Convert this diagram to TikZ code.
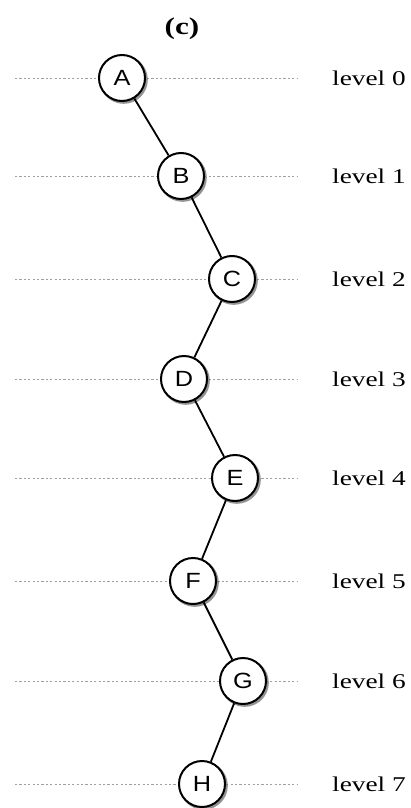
\documentclass[tikz,border=0pt]{standalone}
\usepackage{fontspec}
\setmainfont{Liberation Serif}
\newfontfamily\nodefont[FakeStretch=1.15]{Liberation Sans}
\newfontfamily\lvfont[FakeStretch=1.3]{Liberation Serif}
\usetikzlibrary{shadows}
\begin{document}
\begin{tikzpicture}[x=1pt,y=-1pt,
  tnode/.style={circle, draw=black, line width=2pt, fill=white, minimum size=46pt, inner sep=0pt,
    font=\nodefont\fontsize{22}{22}\selectfont,
    drop shadow={shadow xshift=1.6pt, shadow yshift=-1.6pt, shadow scale=1.05, opacity=0.6, fill=black!70}},
  guide/.style={gray!75, line width=0.9pt, dash pattern=on 2.2pt off 2.2pt},
  lvl/.style={anchor=west, inner sep=0pt, font=\lvfont\fontsize{21}{21}\selectfont},
  edge/.style={line width=1.8pt}]
\useasboundingbox (0,0) rectangle (410,808);
% guide lines
\foreach \yy in {78,176,279,379,478,581,681,784}
  \draw[guide] (15,\yy) -- (298,\yy);
% title
\node[font=\lvfont\bfseries\fontsize{24}{24}\selectfont, inner sep=0pt] (title) at (182,29) {(c)};
% nodes
\node[tnode] (A) at (122,78) {A};
\node[tnode] (B) at (181,176) {B};
\node[tnode] (C) at (232,279) {C};
\node[tnode] (D) at (184,379) {D};
\node[tnode] (E) at (235,478) {E};
\node[tnode] (F) at (193,581) {F};
\node[tnode] (G) at (243,681) {G};
\node[tnode] (H) at (202,784) {H};
% edges
\draw[edge] (A) -- (B);
\draw[edge] (B) -- (C);
\draw[edge] (C) -- (D);
\draw[edge] (D) -- (E);
\draw[edge] (E) -- (F);
\draw[edge] (F) -- (G);
\draw[edge] (G) -- (H);
% labels
\node[lvl] (l0) at (332,78) {level 0};
\node[lvl] (l1) at (332,176) {level 1};
\node[lvl] (l2) at (332,279) {level 2};
\node[lvl] (l3) at (332,379) {level 3};
\node[lvl] (l4) at (332,478) {level 4};
\node[lvl] (l5) at (332,581) {level 5};
\node[lvl] (l6) at (332,681) {level 6};
\node[lvl] (l7) at (332,784) {level 7};
\end{tikzpicture}
\end{document}
